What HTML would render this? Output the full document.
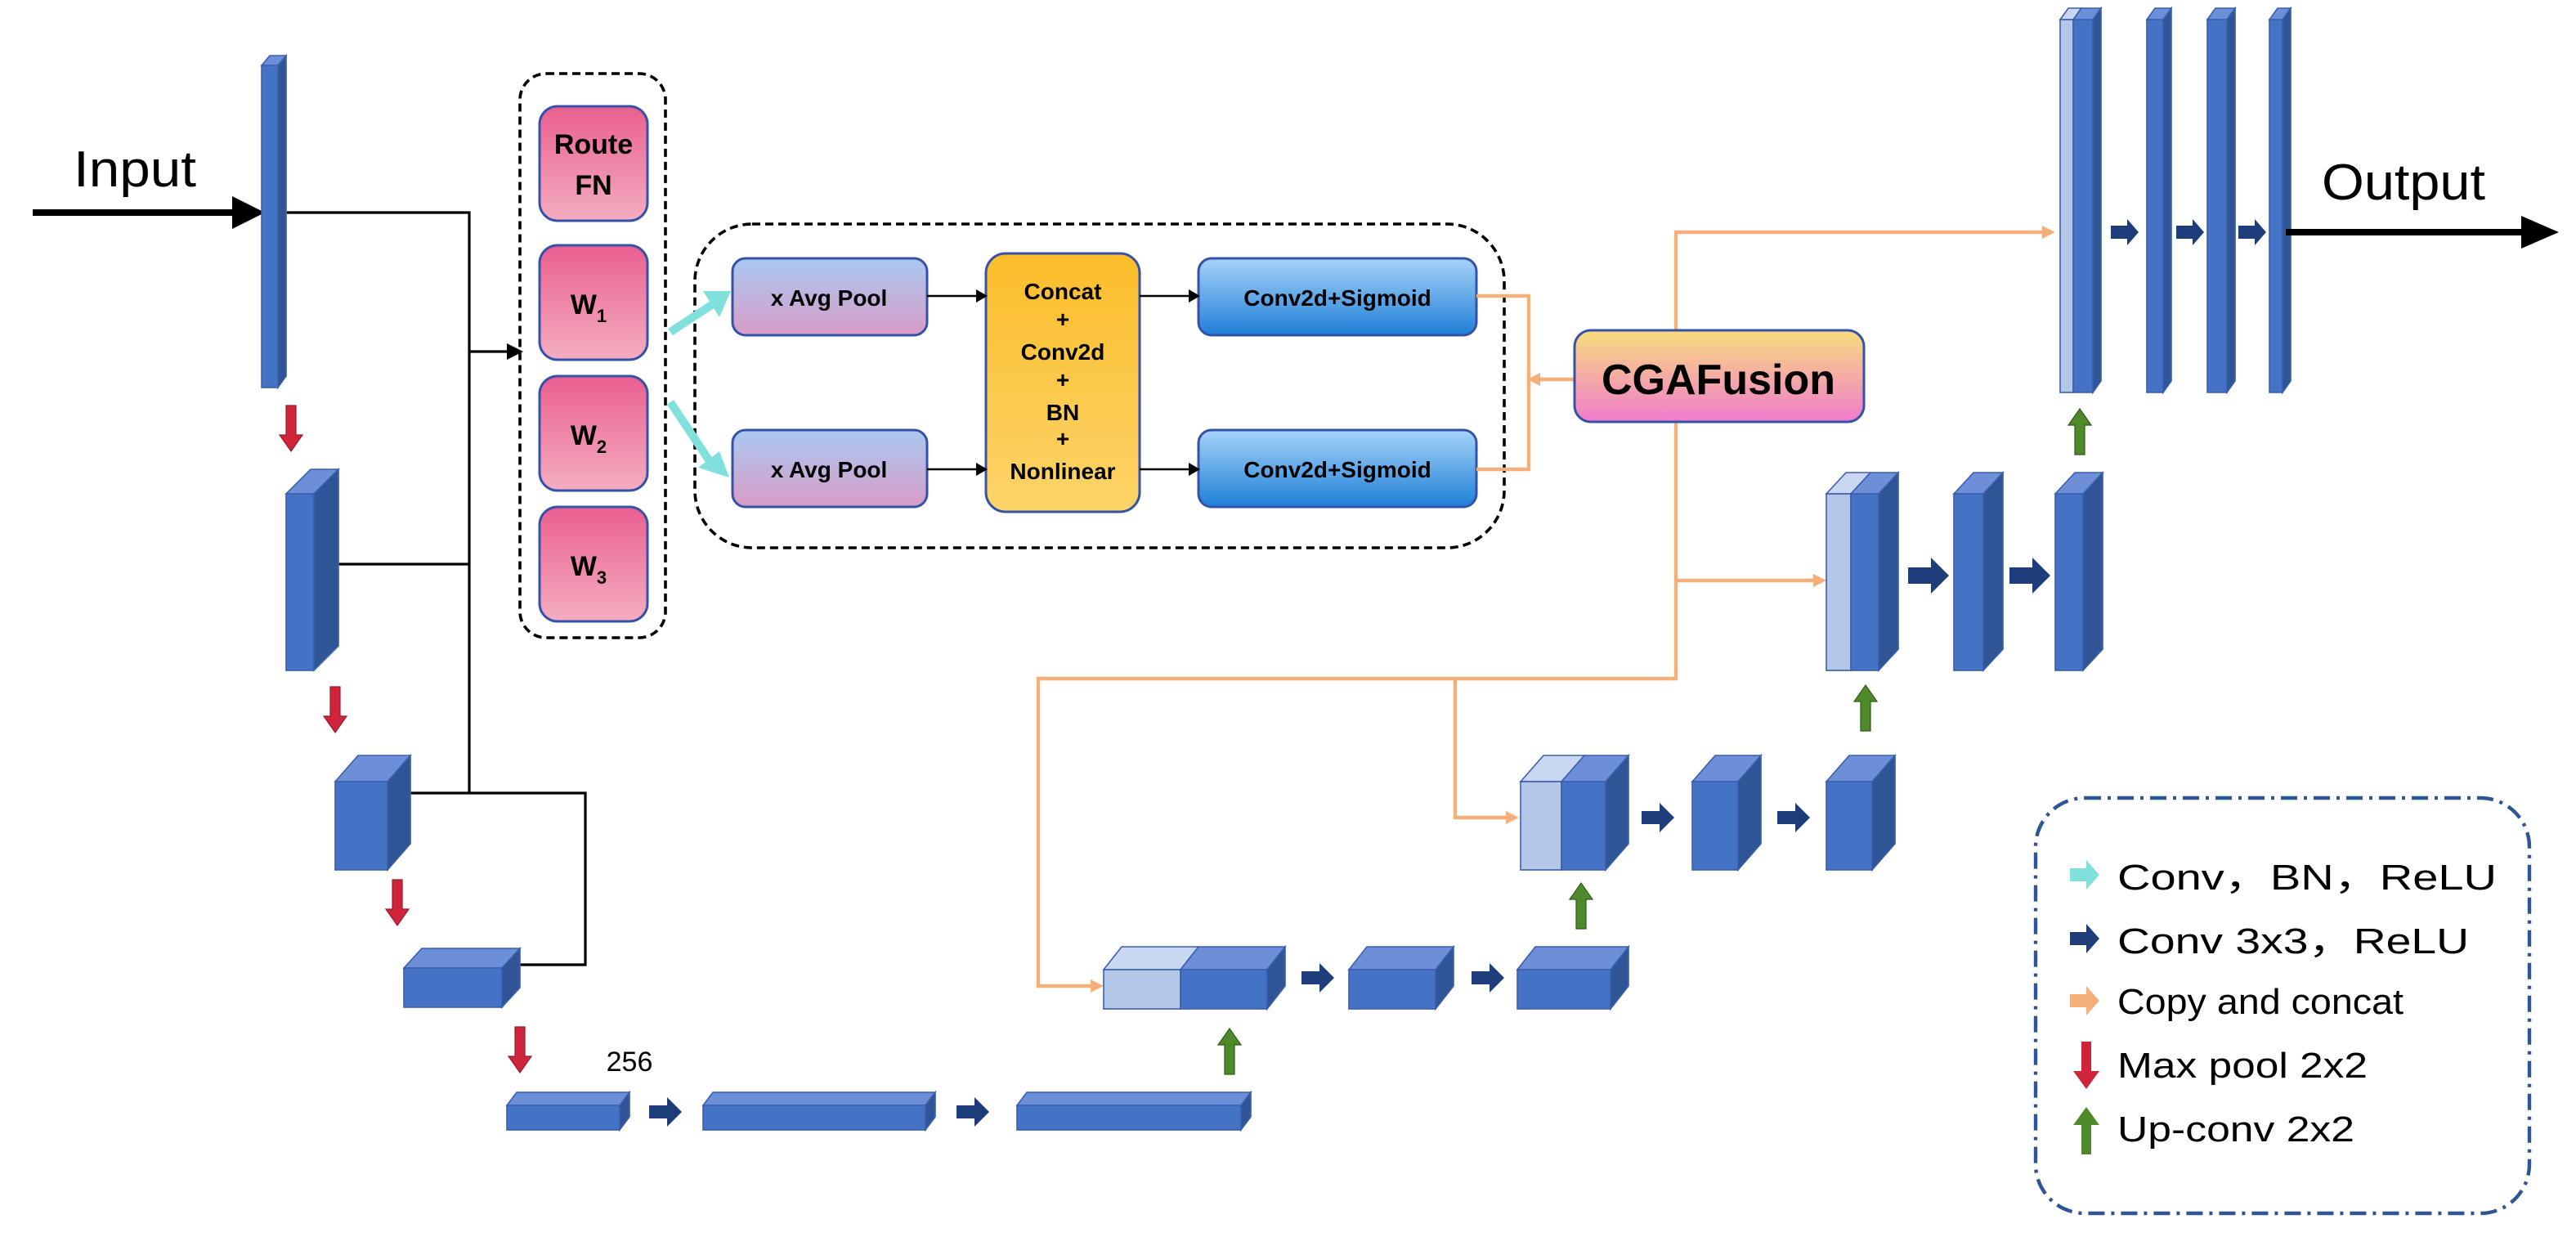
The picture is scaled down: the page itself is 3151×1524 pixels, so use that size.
<!DOCTYPE html>
<html><head><meta charset="utf-8"><style>
html,body{margin:0;padding:0;background:#fff;}
svg{display:block;}
text{font-family:"Liberation Sans",Arial,sans-serif;}
</style></head><body>
<svg width="3151" height="1524" viewBox="0 0 1575.5 762" xmlns="http://www.w3.org/2000/svg">
<defs>
<linearGradient id="pk" x1="0" y1="0" x2="0" y2="1"><stop offset="0" stop-color="#ea5f90"/><stop offset="1" stop-color="#f4adc0"/></linearGradient>
<linearGradient id="ap" x1="0" y1="0" x2="0" y2="1"><stop offset="0" stop-color="#a9c9f2"/><stop offset="1" stop-color="#d89cc6"/></linearGradient>
<linearGradient id="or" x1="0" y1="0" x2="0" y2="1"><stop offset="0" stop-color="#fbbd2a"/><stop offset="1" stop-color="#fdd469"/></linearGradient>
<linearGradient id="bl" x1="0" y1="0" x2="0" y2="1"><stop offset="0" stop-color="#a6d3f8"/><stop offset="1" stop-color="#1f7fd8"/></linearGradient>
<linearGradient id="cg" x1="0" y1="0" x2="0" y2="1"><stop offset="0" stop-color="#f8dc7c"/><stop offset="1" stop-color="#f07ccc"/></linearGradient>
</defs>

<!-- Input -->
<text x="45" y="114" font-size="31" textLength="75" lengthAdjust="spacingAndGlyphs">Input</text>
<line x1="20" y1="130" x2="145" y2="130" stroke="#000" stroke-width="4"/>
<polygon points="142,120 162,130 142,140" fill="#000"/>

<!-- black skip lines -->
<g stroke="#000" stroke-width="1.6" fill="none">
<polyline points="172,130 287,130 287,485"/>
<line x1="193" y1="345" x2="287" y2="345"/>
<polyline points="233,485 358,485 358,590 318,590"/>
<line x1="287" y1="215" x2="312" y2="215"/>
</g>
<polygon points="310,210 320,215 310,220" fill="#000"/>

<!-- dashed box 1 -->
<rect x="318" y="45" width="89" height="345" rx="16" fill="none" stroke="#000" stroke-width="1.8" stroke-dasharray="5,3"/>
<g stroke="#3552a8" stroke-width="1.5" fill="url(#pk)">
<rect x="330" y="65" width="66" height="70" rx="11"/>
<rect x="330" y="150" width="66" height="70" rx="11"/>
<rect x="330" y="230" width="66" height="70" rx="11"/>
<rect x="330" y="310" width="66" height="70" rx="11"/>
</g>
<g font-size="17" font-weight="bold" text-anchor="middle">
<text x="363" y="94">Route</text><text x="363" y="119">FN</text>
<text x="360" y="192">W<tspan font-size="11" dy="5">1</tspan></text>
<text x="360" y="272">W<tspan font-size="11" dy="5">2</tspan></text>
<text x="360" y="352">W<tspan font-size="11" dy="5">3</tspan></text>
</g>

<!-- dashed box 2 -->
<rect x="425" y="137" width="495" height="198" rx="35" fill="none" stroke="#000" stroke-width="1.8" stroke-dasharray="5,3"/>
<!-- cyan arrows -->
<g stroke="#7fe0dc" stroke-width="5" fill="#7fe0dc">
<line x1="410" y1="203" x2="436" y2="186"/>
<line x1="410" y1="246" x2="434" y2="282"/>
</g>
<polygon points="430,178 447,178 440,194" fill="#7fe0dc"/>
<polygon points="427,286 440,276 446,292" fill="#7fe0dc"/>

<g stroke="#3552a8" stroke-width="1.5">
<rect x="448" y="158" width="119" height="47" rx="8" fill="url(#ap)"/>
<rect x="448" y="263" width="119" height="47" rx="8" fill="url(#ap)"/>
<rect x="603" y="155" width="94" height="158" rx="12" fill="url(#or)"/>
<rect x="733" y="158" width="170" height="47" rx="8" fill="url(#bl)"/>
<rect x="733" y="263" width="170" height="47" rx="8" fill="url(#bl)"/>
</g>
<g font-size="14" font-weight="bold" text-anchor="middle">
<text x="507" y="187">x Avg Pool</text>
<text x="507" y="292">x Avg Pool</text>
<text x="818" y="187">Conv2d+Sigmoid</text>
<text x="818" y="292">Conv2d+Sigmoid</text>
<text x="650" y="183">Concat</text>
<text x="650" y="200">+</text>
<text x="650" y="220">Conv2d</text>
<text x="650" y="237">+</text>
<text x="650" y="257">BN</text>
<text x="650" y="273">+</text>
<text x="650" y="293">Nonlinear</text>
</g>
<g stroke="#000" stroke-width="1.3">
<line x1="567" y1="181" x2="598" y2="181"/><line x1="567" y1="287" x2="598" y2="287"/>
<line x1="697" y1="181" x2="728" y2="181"/><line x1="697" y1="287" x2="728" y2="287"/>
</g>
<g fill="#000">
<polygon points="597,177 604,181 597,185"/><polygon points="597,283 604,287 597,291"/>
<polygon points="727,177 734,181 727,185"/><polygon points="727,283 734,287 727,291"/>
</g>

<!-- orange lines -->
<g stroke="#f5b07a" stroke-width="2.2" fill="none">
<polyline points="903,181 935,181 935,287 903,287"/>
<line x1="940" y1="232" x2="963" y2="232"/>
<polyline points="1025,202 1025,142 1250,142"/>
<polyline points="1025,258 1025,415 635,415 635,603 668,603"/>
<line x1="1025" y1="355" x2="1110" y2="355"/>
<polyline points="890,415 890,500 922,500"/>
</g>
<g fill="#f5b07a">
<polygon points="934,232 942,228 942,236"/>
<polygon points="1249,138 1257,142 1249,146"/>
<polygon points="1109,351 1117,355 1109,359"/>
<polygon points="667,599 675,603 667,607"/>
<polygon points="921,496 929,500 921,504"/>
</g>

<rect x="963" y="202" width="177" height="56" rx="10" fill="url(#cg)" stroke="#3552a8" stroke-width="1.5"/>
<text x="1051" y="241" font-size="26" font-weight="bold" text-anchor="middle">CGAFusion</text>

<!-- 3D blocks -->
<g stroke="#3a5fae" stroke-width="0.8">
<polygon points="160,40 165,34 175,34 170,40" fill="#6d8fd8"/>
<rect x="160" y="40" width="10" height="197" fill="#4472c4"/>
<polygon points="170,40 175,34 175,230 170,237" fill="#2f5597"/>
<polygon points="175,302 190,287 207,287 192,302" fill="#6d8fd8"/>
<rect x="175" y="302" width="17" height="108" fill="#4472c4"/>
<polygon points="192,302 207,287 207,395 192,410" fill="#2f5597"/>
<polygon points="205,478 219,462 251,462 237,478" fill="#6d8fd8"/>
<rect x="205" y="478" width="32" height="54" fill="#4472c4"/>
<polygon points="237,478 251,462 251,516 237,532" fill="#2f5597"/>
<polygon points="247,592 258,580 318,580 307,592" fill="#6d8fd8"/>
<rect x="247" y="592" width="60" height="24" fill="#4472c4"/>
<polygon points="307,592 318,580 318,604 307,616" fill="#2f5597"/>
<polygon points="310,676 316,668 385,668 379,676" fill="#6d8fd8"/>
<rect x="310" y="676" width="69" height="15" fill="#4472c4"/>
<polygon points="379,676 385,668 385,683 379,691" fill="#2f5597"/>
<polygon points="430,676 436,668 572,668 566,676" fill="#6d8fd8"/>
<rect x="430" y="676" width="136" height="15" fill="#4472c4"/>
<polygon points="566,676 572,668 572,683 566,691" fill="#2f5597"/>
<polygon points="622,676 628,668 765,668 759,676" fill="#6d8fd8"/>
<rect x="622" y="676" width="137" height="15" fill="#4472c4"/>
<polygon points="759,676 765,668 765,683 759,691" fill="#2f5597"/>
<polygon points="675,593 686,579 733,579 722,593" fill="#c9d7f0"/>
<rect x="675" y="593" width="47" height="24" fill="#b4c7e7"/>
<polygon points="722,593 733,579 786,579 775,593" fill="#6d8fd8"/>
<rect x="722" y="593" width="53" height="24" fill="#4472c4"/>
<polygon points="775,593 786,579 786,603 775,617" fill="#2f5597"/>
<polygon points="825,593 836,579 889,579 878,593" fill="#6d8fd8"/>
<rect x="825" y="593" width="53" height="24" fill="#4472c4"/>
<polygon points="878,593 889,579 889,603 878,617" fill="#2f5597"/>
<polygon points="928,593 939,579 996,579 985,593" fill="#6d8fd8"/>
<rect x="928" y="593" width="57" height="24" fill="#4472c4"/>
<polygon points="985,593 996,579 996,603 985,617" fill="#2f5597"/>
<polygon points="930,478 944,462 969,462 955,478" fill="#c9d7f0"/>
<rect x="930" y="478" width="25" height="54" fill="#b4c7e7"/>
<polygon points="955,478 969,462 996,462 982,478" fill="#6d8fd8"/>
<rect x="955" y="478" width="27" height="54" fill="#4472c4"/>
<polygon points="982,478 996,462 996,516 982,532" fill="#2f5597"/>
<polygon points="1035,478 1049,462 1077,462 1063,478" fill="#6d8fd8"/>
<rect x="1035" y="478" width="28" height="54" fill="#4472c4"/>
<polygon points="1063,478 1077,462 1077,516 1063,532" fill="#2f5597"/>
<polygon points="1117,478 1131,462 1159,462 1145,478" fill="#6d8fd8"/>
<rect x="1117" y="478" width="28" height="54" fill="#4472c4"/>
<polygon points="1145,478 1159,462 1159,516 1145,532" fill="#2f5597"/>
<polygon points="1117,302 1129,289 1144,289 1132,302" fill="#c9d7f0"/>
<rect x="1117" y="302" width="15" height="108" fill="#b4c7e7"/>
<polygon points="1132,302 1144,289 1161,289 1149,302" fill="#6d8fd8"/>
<rect x="1132" y="302" width="17" height="108" fill="#4472c4"/>
<polygon points="1149,302 1161,289 1161,397 1149,410" fill="#2f5597"/>
<polygon points="1195,302 1207,289 1225,289 1213,302" fill="#6d8fd8"/>
<rect x="1195" y="302" width="18" height="108" fill="#4472c4"/>
<polygon points="1213,302 1225,289 1225,397 1213,410" fill="#2f5597"/>
<polygon points="1257,302 1269,289 1286,289 1274,302" fill="#6d8fd8"/>
<rect x="1257" y="302" width="17" height="108" fill="#4472c4"/>
<polygon points="1274,302 1286,289 1286,397 1274,410" fill="#2f5597"/>
<polygon points="1260,12 1265,5 1273,5 1268,12" fill="#c9d7f0"/>
<rect x="1260" y="12" width="8" height="228" fill="#b4c7e7"/>
<polygon points="1268,12 1273,5 1285,5 1280,12" fill="#6d8fd8"/>
<rect x="1268" y="12" width="12" height="228" fill="#4472c4"/>
<polygon points="1280,12 1285,5 1285,233 1280,240" fill="#2f5597"/>
<polygon points="1313,12 1318,5 1328,5 1323,12" fill="#6d8fd8"/>
<rect x="1313" y="12" width="10" height="228" fill="#4472c4"/>
<polygon points="1323,12 1328,5 1328,233 1323,240" fill="#2f5597"/>
<polygon points="1350,12 1355,5 1367,5 1362,12" fill="#6d8fd8"/>
<rect x="1350" y="12" width="12" height="228" fill="#4472c4"/>
<polygon points="1362,12 1367,5 1367,233 1362,240" fill="#2f5597"/>
<polygon points="1388,12 1393,5 1401,5 1396,12" fill="#6d8fd8"/>
<rect x="1388" y="12" width="8" height="228" fill="#4472c4"/>
<polygon points="1396,12 1401,5 1401,233 1396,240" fill="#2f5597"/>
</g>

<!-- dark blue arrows -->
<g fill="#1f3d7a">
<path transform="translate(397,680)" d="M0,-4 H11 V-9 L20,0 L11,9 V4 H0 Z"/>
<path transform="translate(585,680)" d="M0,-4 H11 V-9 L20,0 L11,9 V4 H0 Z"/>
<path transform="translate(796,598)" d="M0,-4 H11 V-9 L20,0 L11,9 V4 H0 Z"/>
<path transform="translate(900,598)" d="M0,-4 H11 V-9 L20,0 L11,9 V4 H0 Z"/>
<path transform="translate(1004,500)" d="M0,-4 H11 V-9 L20,0 L11,9 V4 H0 Z"/>
<path transform="translate(1087,500)" d="M0,-4 H11 V-9 L20,0 L11,9 V4 H0 Z"/>
<path transform="translate(1167,352)" d="M0,-5 H14 V-11 L25,0 L14,11 V5 H0 Z"/>
<path transform="translate(1229,352)" d="M0,-5 H14 V-11 L25,0 L14,11 V5 H0 Z"/>
<path transform="translate(1291,142)" d="M0,-4 H10 V-8 L17,0 L10,8 V4 H0 Z"/>
<path transform="translate(1331,142)" d="M0,-4 H10 V-8 L17,0 L10,8 V4 H0 Z"/>
<path transform="translate(1369,142)" d="M0,-4 H10 V-8 L17,0 L10,8 V4 H0 Z"/>
</g>

<!-- red down arrows -->
<g fill="#d0243c" stroke="#9a1a2a" stroke-width="0.6">
<path transform="translate(178,248)" d="M-3,0 H3 V18 H7 L0,28 L-7,18 H-3 Z"/>
<path transform="translate(205,420)" d="M-3,0 H3 V18 H7 L0,28 L-7,18 H-3 Z"/>
<path transform="translate(243,538)" d="M-3,0 H3 V18 H7 L0,28 L-7,18 H-3 Z"/>
<path transform="translate(318,628)" d="M-3,0 H3 V18 H7 L0,28 L-7,18 H-3 Z"/>
</g>
<!-- green up arrows -->
<g fill="#4f8a2a" stroke="#2f5a1a" stroke-width="0.6">
<path transform="translate(752,657)" d="M-3,0 H3 V-18 H7 L0,-28 L-7,-18 H-3 Z"/>
<path transform="translate(967,568)" d="M-3,0 H3 V-18 H7 L0,-28 L-7,-18 H-3 Z"/>
<path transform="translate(1141,447)" d="M-3,0 H3 V-18 H7 L0,-28 L-7,-18 H-3 Z"/>
<path transform="translate(1272,278)" d="M-3,0 H3 V-18 H7 L0,-28 L-7,-18 H-3 Z"/>
</g>

<text x="385" y="655" font-size="17" text-anchor="middle">256</text>

<!-- Output -->
<text x="1420" y="122" font-size="31" textLength="100" lengthAdjust="spacingAndGlyphs">Output</text>
<line x1="1398" y1="142" x2="1545" y2="142" stroke="#000" stroke-width="4"/>
<polygon points="1542,132 1565,142 1542,152" fill="#000"/>

<!-- legend -->
<rect x="1245" y="488" width="302" height="254" rx="30" fill="none" stroke="#2f5597" stroke-width="2.2" stroke-dasharray="10,4,2,4"/>
<path transform="translate(1268,535)" d="M-2,-4 H8 V-9 L16,0 L8,9 V4 H-2 Z" fill="#7fe0dc"/>
<path transform="translate(1268,574)" d="M-2,-4 H8 V-9 L16,0 L8,9 V4 H-2 Z" fill="#1f3d7a"/>
<path transform="translate(1268,612)" d="M-2,-4 H8 V-9 L16,0 L8,9 V4 H-2 Z" fill="#f5b07a"/>
<path transform="translate(1276,637)" d="M-3,0 H3 V18 H8 L0,29 L-8,18 H-3 Z" fill="#d0243c"/>
<path transform="translate(1276,706)" d="M-3,0 H3 V-18 H8 L0,-29 L-8,-18 H-3 Z" fill="#4f8a2a"/>
<g font-size="22">
<text x="1295" y="544" textLength="232" lengthAdjust="spacingAndGlyphs">Conv，BN，ReLU</text>
<text x="1295" y="583" textLength="215" lengthAdjust="spacingAndGlyphs">Conv 3x3，ReLU</text>
<text x="1295" y="620" textLength="175" lengthAdjust="spacingAndGlyphs">Copy and concat</text>
<text x="1295" y="659" textLength="153" lengthAdjust="spacingAndGlyphs">Max pool 2x2</text>
<text x="1295" y="698" textLength="145" lengthAdjust="spacingAndGlyphs">Up-conv 2x2</text>
</g>
</svg>
</body></html>
